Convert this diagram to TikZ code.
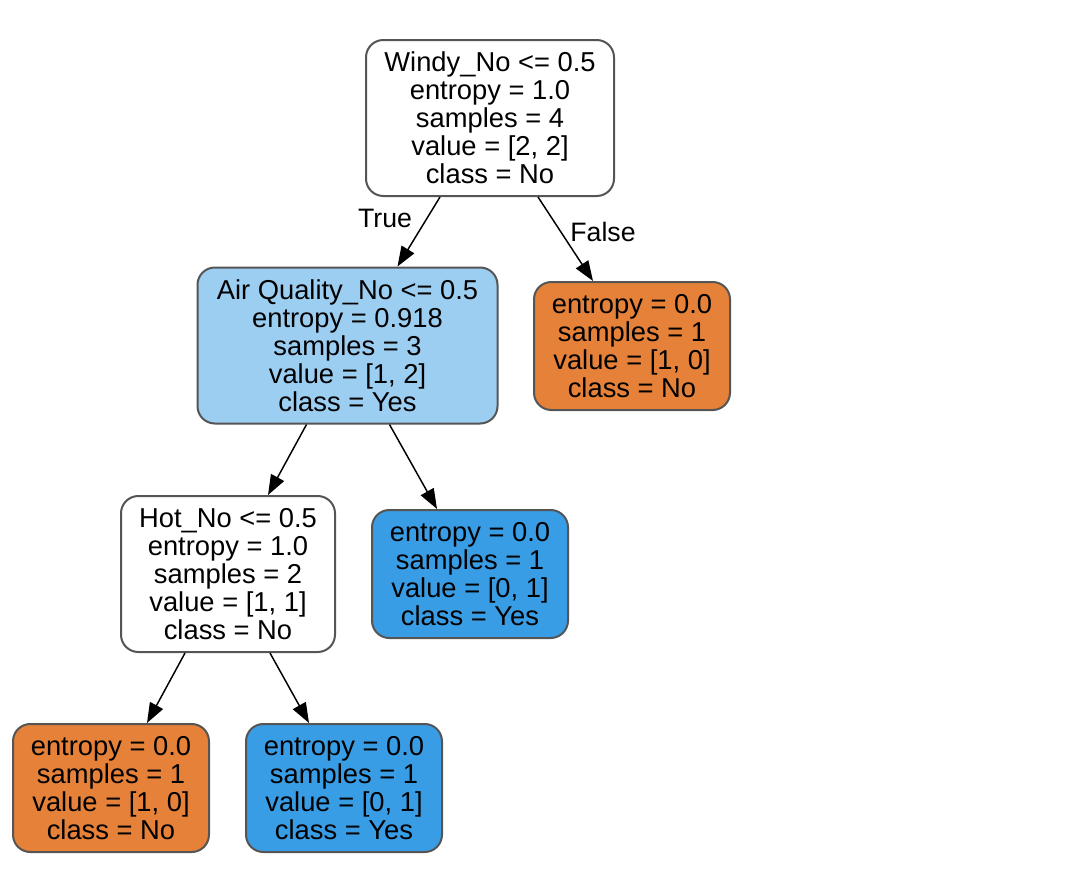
\documentclass[tikz,border=0pt]{standalone}
\usepackage{fontspec}
\setmainfont{Liberation Sans}
\usetikzlibrary{arrows.meta,calc}
\definecolor{leafor}{HTML}{E58139}
\definecolor{leafbl}{HTML}{399DE5}
\definecolor{midbl}{HTML}{9CCEF2}
\definecolor{bordergray}{HTML}{555555}
\begin{document}
\begin{tikzpicture}[x=0.75pt,y=-0.75pt,
  treebox/.style={draw=bordergray, line width=1.5pt, rounded corners=13pt,
    align=center, inner sep=0pt,
    font=\fontsize{20.5pt}{21pt}\selectfont},
  inner/.style={treebox, minimum height=117pt},
  leafbox/.style={treebox, minimum width=147pt, minimum height=96pt},
  edge/.style={line width=1.1pt, -{Triangle[length=15pt,width=11pt]}},
  edgelabel/.style={font=\fontsize{20pt}{21pt}\selectfont, inner sep=0pt}
]
\useasboundingbox (0,0) rectangle (1092,878);

\node[inner, fill=white, minimum width=186pt] (root) at (490,118)
  {Windy\_No <= 0.5\\entropy = 1.0\\samples = 4\\value = [2, 2]\\class = No};
\node[inner, fill=midbl, minimum width=225pt] (air) at (347.5,345.5)
  {Air Quality\_No <= 0.5\\entropy = 0.918\\samples = 3\\value = [1, 2]\\class = Yes};
\node[leafbox, fill=leafor] (leafA) at (632,346)
  {entropy = 0.0\\samples = 1\\value = [1, 0]\\class = No};
\node[inner, fill=white, minimum width=160.5pt] (hot) at (228,574)
  {Hot\_No <= 0.5\\entropy = 1.0\\samples = 2\\value = [1, 1]\\class = No};
\node[leafbox, fill=leafbl] (leafB) at (470,574)
  {entropy = 0.0\\samples = 1\\value = [0, 1]\\class = Yes};
\node[leafbox, fill=leafor] (leafC) at (111,788)
  {entropy = 0.0\\samples = 1\\value = [1, 0]\\class = No};
\node[leafbox, fill=leafbl] (leafD) at (344,788)
  {entropy = 0.0\\samples = 1\\value = [0, 1]\\class = Yes};

\draw[edge] ($(root.south)+(-50,0)$) -- ($(air.north)+(50,0)$);
\draw[edge] ($(root.south)+(48,0)$) -- ($(leafA.north)+(-39,0)$);
\draw[edge] ($(air.south)+(-41,0)$) -- ($(hot.north)+(40,0)$);
\draw[edge] ($(air.south)+(42,0)$) -- ($(leafB.north)+(-33,0)$);
\draw[edge] ($(hot.south)+(-43,0)$) -- ($(leafC.north)+(36,0)$);
\draw[edge] ($(hot.south)+(42,0)$) -- ($(leafD.north)+(-35,0)$);

\node[edgelabel] (lt) at (385,218) {True};
\node[edgelabel] (lf) at (603,232) {False};
\end{tikzpicture}
\end{document}
